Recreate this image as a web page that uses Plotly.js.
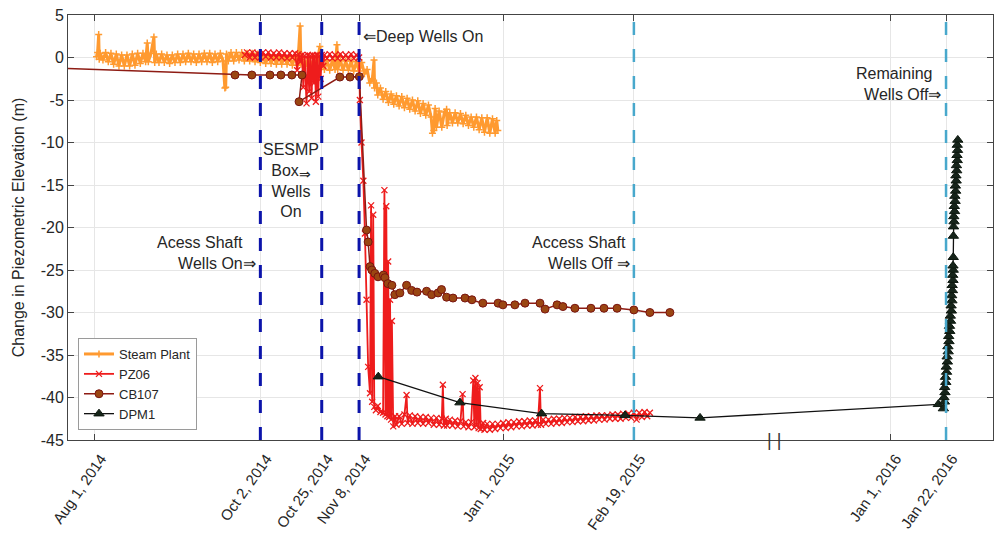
<!DOCTYPE html>
<html><head><meta charset="utf-8">
<script src="https://cdn.plot.ly/plotly-3.0.1.min.js"></script>
<style>html,body{margin:0;padding:0;background:#fff}</style>
</head><body><div id="chart" style="width:994px;height:533px"></div>
<script>
// x values are days after Aug 1, 2014
const steamDay = [
0.6,1.0,1.4,1.6,2,3,4,5,6,7,8,9,10,11,12,13,14,15,16,17,18,19,19.6,20,21,22.1,22.4,
23,24,25,26,27,28,29,30,31,32,33,34,35,36,37,38,39,40,41,42,43,44,45,46,47,48,48.7,49,49.3,
50,51,52,53,54,55,56,57,58,59,60,61,62,63,64,65,66,67,68,69,70,71,72,73,74,75,76,76.9,77.2,
78,79,80,81,82,83,84.3,84.6,85,86,87,88,89,90,90.7,91,92,93,94,95,96,97,98,99,100,101,102,103,104,104.6,104.8,105.5,
106,107,108,109,110,111,112,113,114,115,116,117,118,119,120,121,122,123,124,125,126,126.5,127,127.5,
128,129,130,131,131.8,132,133,134,135,136,137,138,139,140,141,142,143,144,145,146,147,148,149,150,150.6,151];
const steamVal = [
0.1,0.6,2.7,-0.2,0.5,-0.3,0.6,-0.5,0.5,-0.8,0.4,-1.0,0.3,-1.0,0.3,-1.0,0.4,-0.9,0.5,-0.7,0.5,-0.5,1.7,-0.5,0.5,2.4,-0.6,
0.4,-0.6,0.4,-0.6,0.3,-0.7,0.3,-0.6,0.4,-0.6,0.4,-0.5,0.5,-0.5,0.4,-0.6,0.4,-0.5,0.5,-0.5,0.5,-0.6,0.4,-0.5,0.5,-0.4,-3.6,-3.5,0.4,
-0.4,0.6,-0.4,0.6,-0.3,0.6,-0.4,0.5,-0.4,0.5,-0.5,0.4,-0.6,0.3,-0.7,0.3,-0.7,0.2,-0.8,0.2,-0.8,0.2,-0.8,0.1,-0.9,0.1,-0.9,3.7,-0.8,
0.0,-1.0,0.0,-1.1,-0.1,-1.1,1.3,-1.2,-0.3,-1.4,-0.3,-1.5,-0.3,-1.4,1.5,-1.4,-0.3,-1.5,-0.4,-1.5,-0.4,-1.6,-0.5,-1.6,-0.6,-1.9,-1.4,-3.0,-2.5,-0.3,-3.6,-3.0,
-4.4,-3.6,-4.9,-4.0,-5.3,-4.3,-5.5,-4.5,-5.7,-4.6,-5.9,-4.8,-6.1,-5.0,-6.3,-5.1,-6.6,-5.4,-6.8,-5.6,-7.0,-8.9,-8.6,-6.0,
-8.2,-6.3,-8.2,-6.4,-6.1,-8.0,-6.5,-7.7,-6.5,-7.7,-6.6,-7.8,-6.8,-8.0,-7.0,-8.2,-7.0,-8.5,-7.1,-8.8,-7.1,-8.9,-7.2,-8.9,-7.4,-8.6];

const pzDay = [
56.2,57,58,59,60,61,62,63,64,65,66,67,68,69,70,71,72,73,74,75,
75.8,76.3,77,77.6,78.1,78.6,79.3,79.8,80.3,80.7,81.2,81.6,82.1,82.4,82.8,83.2,83.7,84.1,84.6,85.0,85.6,
86,87,88,89,90,91,92,93,94,95,96,97,98,99,
99.3,99.9,100.6,101.2,101.8,102.4,103.1,103.5,103.9,104.3,104.7,105.3,106,107,108,
108.5,108.9,109.2,109.6,109.9,110.3,110.6,111,111.3,111.8,112.5,113,114,115,116,116.8,117.2,
118,119,120,121,122,123,124,125,126,127,128,129,130,130.4,130.8,131.5,
132,133,134,135,136,137,137.8,138.2,139,140,141,141.8,142.2,142.6,143,143.4,143.8,144.2,144.6,145.5,
146,147,148,149,150,151,152,153,154,155,156,157,158,159,160,161,162,163,164,165,166,166.8,167.2,
168,169,170,171,172,173,174,175,176,177,178,179,180,181,182,183,184,185,186,187,188,189,190,191,192,193,194,195,196,197,198,199,200,201,202,203,204,205,206,207,208];
const pzVal = [
0.3,0.6,0.0,0.6,0.0,0.5,0.0,0.6,0.1,0.6,0.0,0.5,0.0,0.6,0.0,0.5,-0.1,0.5,0.0,0.5,
-1.5,0.4,-0.5,0.3,-3.5,0.2,-5.4,0.3,-4.0,0.2,-4.8,0.3,-3.0,0.2,-5.2,0.3,-4.6,0.2,-2.5,0.3,-1.0,
0.3,-0.1,0.4,-0.1,0.3,-0.1,0.4,-0.1,0.3,-0.1,0.4,-0.1,0.3,0.0,
-5.0,-10.0,-14.5,-20.7,-28.5,-36.4,-39.5,-17.4,-40.5,-18.5,-41.1,-41.5,-41.0,-41.7,-41.8,
-15.6,-42.0,-17.5,-42.2,-24.0,-42.3,-28.5,-42.6,-31.0,-43.4,-42.2,-43.2,-42.2,-43.1,-42.0,-39.7,-43.0,
-42.1,-43.1,-42.2,-43.0,-42.3,-43.1,-42.3,-43.0,-42.4,-43.2,-42.4,-43.2,-42.5,-38.5,-43.3,-42.5,
-43.3,-42.6,-43.3,-42.7,-43.4,-42.8,-39.6,-43.4,-42.9,-43.5,-42.9,-38.0,-43.5,-37.7,-43.2,-38.3,-43.6,-38.8,-43.7,-43.0,
-43.8,-43.1,-43.8,-43.1,-43.7,-43.1,-43.6,-43.0,-43.6,-42.9,-43.5,-42.9,-43.4,-42.8,-43.4,-42.8,-43.3,-42.7,-43.3,-42.7,-43.2,-38.9,-43.2,
-42.6,-43.1,-42.6,-43.1,-42.5,-43.0,-42.5,-43.0,-42.4,-42.9,-42.4,-42.9,-42.3,-42.8,-42.3,-42.8,-42.2,-42.7,-42.2,-42.7,-42.1,-42.6,-42.1,-42.6,-42.1,-42.5,-42.0,-42.5,-42.0,-42.5,-41.9,-42.4,-41.9,-42.4,-41.8,-42.6,-41.8,-42.3,-41.7,-42.2,-41.8];

const cbDay = [-40,52.5,58.8,65.6,69.7,73.8,77.6,76.5,91.8,95.6,99.1,101.8,102.4,103.1,103.8,104.9,106.1,108.1,108.7,109.8,111.3,112.4,114.3,116.8,118.7,120.7,124.3,126.2,128.6,129.9,131.8,134.2,138.7,141.3,145.4,151.1,152.9,157.4,161.2,166.8,168.7,173.2,175.4,179.9,185.9,190.8,195.7,202.0,208.0,215.5];
const cbVal = [-0.96,-2.06,-2.06,-2.06,-2.06,-2.06,-2.06,-5.2,-2.3,-2.3,-2.25,-20.3,-21.7,-24.6,-25.0,-25.4,-25.8,-25.6,-25.9,-26.6,-26.8,-27.9,-27.7,-26.8,-27.4,-27.6,-27.5,-27.9,-27.7,-27.3,-28.2,-28.3,-28.3,-28.5,-28.9,-28.9,-29.1,-29.1,-28.9,-28.9,-29.6,-29.1,-29.3,-29.5,-29.5,-29.5,-29.5,-29.7,-30.0,-30.0];

const dpmDay = [106.2,136.8,167.4,198.7,226.8,536.1,
538.0,538.4,538.2,538.6,538.5,538.9,538.8,539.2,539.1,539.5,539.4,539.8,539.7,540.1,540.0,540.4,540.3,540.7,540.6,541.0,540.9,541.2,541.1,541.4,541.3,541.6,541.5,541.7,541.6,
541.7,541.75,541.8,
542.0,541.9,542.2,542.1,542.4,542.3,542.6,542.5,542.8,542.7,543.0,542.9,543.2,543.1,543.3,543.2,543.4];
const dpmVal = [-37.55,-40.6,-41.9,-42.1,-42.4,-40.8,
-41.3,-40.5,-40.0,-39.4,-38.8,-38.2,-37.6,-37.0,-36.4,-35.8,-35.2,-34.6,-34.0,-33.4,-32.8,-32.2,-31.6,-31.0,-30.4,-29.8,-29.2,-28.6,-28.0,-27.4,-26.8,-26.2,-25.6,-25.0,-24.5,
-23.5,-21.0,-19.9,
-19.3,-18.7,-18.1,-17.5,-16.9,-16.3,-15.7,-15.1,-14.5,-13.9,-13.3,-12.7,-12.1,-11.5,-10.9,-10.3,-9.7];

const tickDates = ['2014-08-01','2014-10-02','2014-10-25','2014-11-08','2015-01-01','2015-02-19','2016-01-01','2016-01-22'];
const tickLabels = ['Aug 1, 2014','Oct 2, 2014','Oct 25, 2014','Nov 8, 2014','Jan 1, 2015','Feb 19, 2015','Jan 1, 2016','Jan 22, 2016'];
const yTicks = [5,0,-5,-10,-15,-20,-25,-30,-35,-40,-45];
const yTickLabels = ['5','0','-5','-10','-15','-20','-25','-30','-35','-40','-45'];
const wellsOnDates = ['2014-10-02','2014-10-25','2014-11-08'];
const wellsOffDates = ['2015-02-19','2016-01-22'];
const breakBounds = ['2015-04-13','2015-11-19'];

const base = Date.UTC(2014,7,1);
function toDate(d){ return new Date(base + d*864e5).toISOString().slice(0,19).replace('T',' '); }

const FONT = 'Liberation Sans, Arial, Helvetica, sans-serif';
const TXT = '#262626';

const traces = [
  {name:'Steam Plant', x:steamDay.map(toDate), y:steamVal, type:'scatter', mode:'lines+markers',
   line:{color:'#ff9a30', width:3}, marker:{symbol:'cross-thin-open', size:5, line:{color:'#ff9a30', width:1.5}}},
  {name:'PZ06', x:pzDay.map(toDate), y:pzVal, type:'scatter', mode:'lines+markers',
   line:{color:'#ee1c1c', width:1.8}, marker:{symbol:'x-thin-open', size:6, line:{color:'#ee1c1c', width:1.3}}},
  {name:'CB107', x:cbDay.map(toDate), y:cbVal, type:'scatter', mode:'lines+markers',
   line:{color:'#8e1c14', width:1.5}, marker:{symbol:'circle', size:8, color:'#9a4612', line:{color:'#7a1410', width:1}}},
  {name:'DPM1', x:dpmDay.map(toDate), y:dpmVal, type:'scatter', mode:'lines+markers',
   line:{color:'#111111', width:1.3}, marker:{symbol:'triangle-up', size:9, color:'#16241a', line:{color:'#0d180f', width:1}}}
];

const shapes = [];
wellsOnDates.forEach(d => shapes.push({type:'line', xref:'x', yref:'paper', x0:d, x1:d, y0:0, y1:1, layer:'above',
  line:{color:'rgb(12,20,170)', width:3, dash:'13px,14px'}}));
wellsOffDates.forEach(d => shapes.push({type:'line', xref:'x', yref:'paper', x0:d, x1:d, y0:0, y1:1, layer:'above',
  line:{color:'rgb(72,168,204)', width:2.5, dash:'13px,14px'}}));

const af = {family:FONT, size:16, color:TXT};
const annotations = [
  {xref:'x', yref:'y', x:'2014-11-08', y:2.45, xanchor:'left', yanchor:'middle', xshift:2, showarrow:false, text:'\u21D0Deep Wells On', font:af},
  {xref:'x', yref:'y', x:toDate(73.5), y:-14.5, xanchor:'center', yanchor:'middle', align:'center', showarrow:false,
   text:'SESMP<br>Box<sub><span style="font-size:14px">\u21D2</span></sub><br>Wells<br>On', font:af},
  {xref:'x', yref:'y', x:'2014-10-02', y:-23, xanchor:'right', yanchor:'middle', xshift:-2, align:'right', showarrow:false,
   text:'Acess Shaft\u00a0\u00a0\u00a0<br>Wells On\u21D2', font:af},
  {xref:'x', yref:'y', x:'2015-02-19', y:-23, xanchor:'right', yanchor:'middle', xshift:-2, align:'right', showarrow:false,
   text:'Access Shaft\u00a0<br>Wells Off \u21D2', font:af},
  {xref:'x', yref:'y', x:'2016-01-22', y:-3.06, xanchor:'right', yanchor:'middle', xshift:-3, align:'right', showarrow:false,
   text:'Remaining\u00a0\u00a0<br>Wells Off\u21D2', font:af},
  {xref:'paper', yref:'paper', x:0.7632, y:0, xanchor:'center', yanchor:'middle', showarrow:false, text:'| |',
   font:{family:FONT, size:18, color:'#333'}}
];

const layout = {
  width:994, height:533,
  margin:{l:68, r:1, t:15, b:93},
  paper_bgcolor:'#fff', plot_bgcolor:'#fff',
  font:{family:FONT, color:TXT},
  showlegend:true,
  legend:{x:0.0108, y:0.0235, xanchor:'left', yanchor:'bottom', bgcolor:'#fff', bordercolor:'#9a9a9a', borderwidth:1,
    font:{family:FONT, size:13, color:TXT}, tracegroupgap:0},
  xaxis:{type:'date', range:[toDate(-10.1), toDate(556.6)], rangebreaks:[{bounds:breakBounds}],
    tickmode:'array', tickvals:tickDates, ticktext:tickLabels, tickangle:-55,
    tickfont:{family:FONT, size:15, color:TXT}, ticks:'inside', ticklen:6, tickcolor:'#444',
    ticklabelshift:6, ticklabelstandoff:3,
    showgrid:true, gridcolor:'#e6e6e6', gridwidth:1, zeroline:false,
    showline:true, linecolor:'#444', linewidth:1, mirror:'ticks', automargin:false},
  yaxis:{range:[-45,5], tickmode:'array', tickvals:yTicks, ticktext:yTickLabels,
    tickfont:{family:FONT, size:16, color:TXT}, ticks:'inside', ticklen:6, tickcolor:'#444',
    showgrid:true, gridcolor:'#e6e6e6', gridwidth:1, zeroline:false,
    showline:true, linecolor:'#444', linewidth:1, mirror:'ticks', automargin:false,
    title:{text:'Change in Piezometric Elevation (m)', font:{family:FONT, size:16, color:TXT}, standoff:12}},
  shapes:shapes, annotations:annotations
};

Plotly.newPlot('chart', traces, layout, {staticPlot:true, displayModeBar:false});
</script></body></html>
